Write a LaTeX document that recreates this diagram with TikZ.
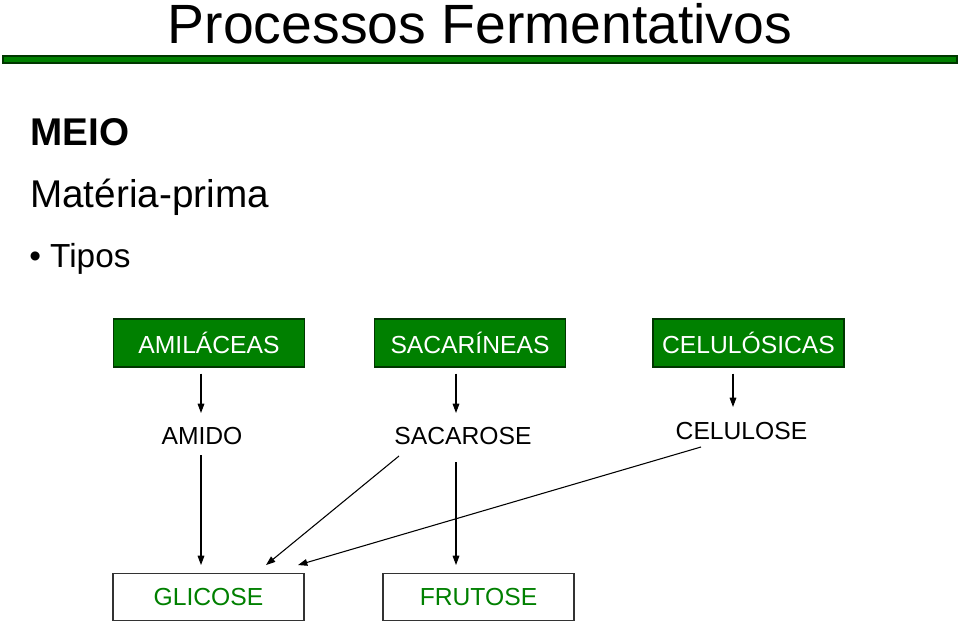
\documentclass[tikz,border=0pt]{standalone}
\usepackage{fontspec}
\setmainfont{Liberation Sans}
\usetikzlibrary{arrows.meta}
\definecolor{pgreen}{RGB}{0,128,0}
\definecolor{dgreen}{RGB}{0,55,0}
\tikzset{
  greenbox/.style={draw=dgreen, line width=0.9pt, fill=pgreen, text=white,
    minimum width=143.25pt, minimum height=36pt, inner sep=0pt,
    font=\fontsize{18.5}{20}\selectfont},
  whitebox/.style={draw=black!80, line width=0.9pt, fill=white, text=pgreen,
    minimum width=143.25pt, minimum height=35pt, inner sep=0pt,
    font=\fontsize{18.5}{20}\selectfont},
  plain/.style={anchor=base, inner sep=0pt, font=\fontsize{18.5}{20}\selectfont},
  arr/.style={draw=black, line width=0.8pt, -{Triangle[length=7pt,width=5pt]}}
}
\begin{document}
\begin{tikzpicture}[x=0.75pt,y=-0.75pt]
\useasboundingbox (0,0) rectangle (960,623);
\fill[white] (0,0) rectangle (960,623);
% title and bar
\node[anchor=base, inner sep=0pt, font=\fontsize{41.5}{46}\selectfont] (title) at (480,44) {Processos Fermentativos};
\node[draw=dgreen, line width=0.9pt, fill=pgreen, minimum width=715.5pt, minimum height=5.25pt, inner sep=0pt] (bar) at (480,59.5) {};
% left texts
\node[anchor=base west, inner sep=0pt, font=\fontsize{29}{32}\selectfont\bfseries] (meio) at (30,146) {MEIO};
\node[anchor=base west, inner sep=0pt, font=\fontsize{29}{32}\selectfont] (materia) at (30,208) {Matéria-prima};
\node[anchor=base west, inner sep=0pt, font=\fontsize{25}{28}\selectfont] (tipos) at (29,268) {\textbullet\ Tipos};
% green boxes
\node[greenbox] (amil) at (209,343) {AMILÁCEAS};
\node[greenbox] (sacar) at (470,343) {SACARÍNEAS};
\node[greenbox] (celul) at (748.5,343) {CELULÓSICAS};
% middle texts
\node[plain] (amido) at (202,444) {AMIDO};
\node[plain] (sacarose) at (463,444) {SACAROSE};
\node[plain] (celulose) at (741.5,440) {CELULOSE};
% bottom boxes
\node[whitebox] (glic) at (208.5,597) {GLICOSE};
\node[whitebox] (frut) at (478.5,597) {FRUTOSE};
% arrows
\draw[arr] ([shift={(-8,6)}]amil.south) -- ([shift={(-1,-31)}]amido.base);
\draw[arr] ([shift={(-14,6)}]sacar.south) -- ([shift={(-7,-31)}]sacarose.base);
\draw[arr] ([shift={(-15.5,6)}]celul.south) -- ([shift={(-8.5,-33)}]celulose.base);
\draw[arr] ([shift={(-1,11)}]amido.base) -- ([shift={(-7.5,-8)}]glic.north);
\draw[arr] ([shift={(-64,12)}]sacarose.base) -- ([shift={(57.5,-8)}]glic.north);
\draw[arr] ([shift={(-7,18)}]sacarose.base) -- ([shift={(-22.5,-8)}]frut.north);
\draw[arr] ([shift={(-40.5,7)}]celulose.base) -- ([shift={(89.5,-8)}]glic.north);
\end{tikzpicture}
\end{document}
